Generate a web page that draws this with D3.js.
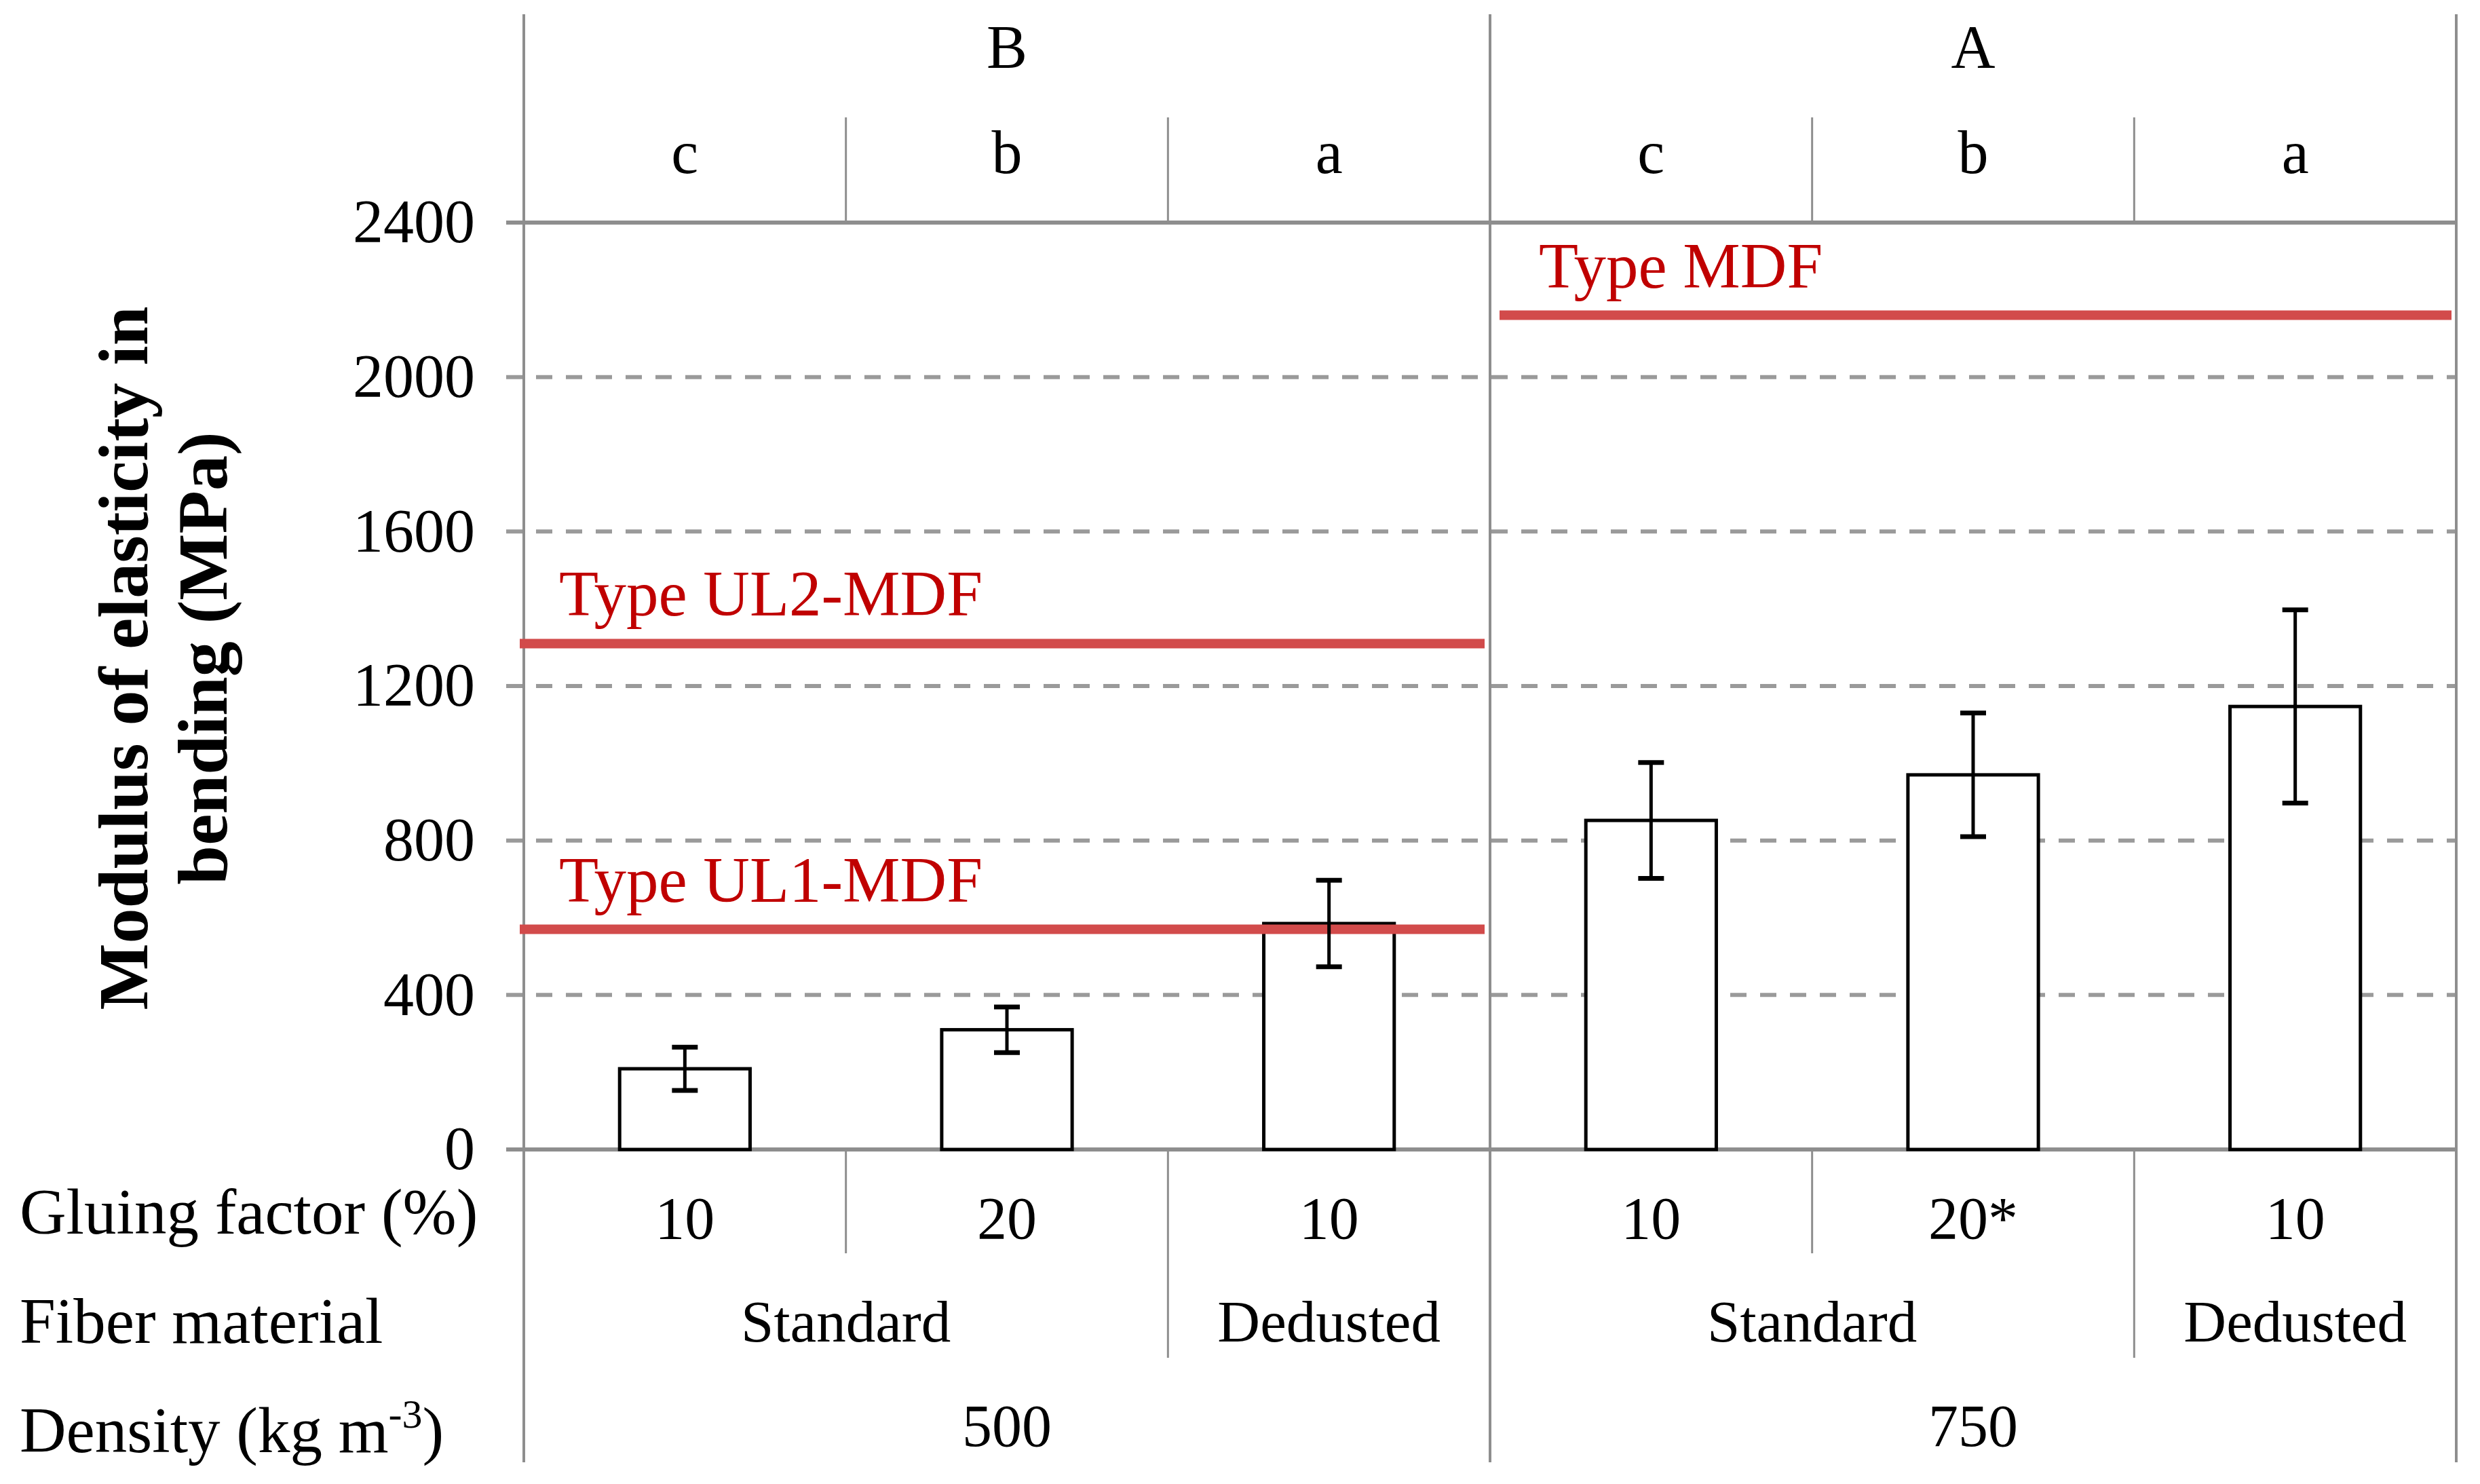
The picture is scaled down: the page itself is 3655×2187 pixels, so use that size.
<!DOCTYPE html>
<html>
<head>
<meta charset="utf-8">
<script src="https://cdn.jsdelivr.net/npm/d3@7"></script>
<style>
  body { margin: 0; background: #fff; }
  text { font-family: "Liberation Serif", "Times New Roman", serif; }
</style>
</head>
<body>
<svg id="chart" width="3655" height="2187"></svg>
<script>
// data
const groups = ["B", "A"];
const letters = ["c", "b", "a", "c", "b", "a"];
const means = [209, 310, 585, 852, 970, 1147];
const sds = [56, 59, 112, 150, 160, 250];
const gluing = ["10", "20", "10", "10", "20*", "10"];
const fiberNames = ["Standard", "Dedusted", "Standard", "Dedusted"];
const fiberFrom = [0, 2, 3, 5];
const fiberTo = [1, 2, 4, 5];
const densities = ["500", "750"];
const refNames = ["Type MDF", "Type UL2-MDF", "Type UL1-MDF"];
const refValues = [2160, 1310, 570];
const refGroup = [1, 0, 0];
const yTicks = [0, 400, 800, 1200, 1600, 2000, 2400];

const svg = d3.select("#chart");
const plotLeft = 772, plotRight = 3620, plotTop = 328, plotBottom = 1694;
const gray = "#8e8e8e";

const x = d3.scaleBand().domain(d3.range(6)).range([plotLeft, plotRight]);
const y = d3.scaleLinear().domain([0, 2400]).range([plotBottom, plotTop]);
const bw = x.bandwidth();
const groupStart = g => x(g * 3);
const groupEnd = g => x(g * 3 + 2) + bw;

// grid lines
svg.append("g").selectAll("line")
  .data(yTicks)
  .join("line")
  .attr("x1", plotLeft - 26).attr("x2", plotRight)
  .attr("y1", d => y(d)).attr("y2", d => y(d))
  .attr("stroke", d => (d === 0 || d === 2400) ? gray : "#9a9a9a")
  .attr("stroke-width", 6)
  .attr("stroke-dasharray", d => (d === 0 || d === 2400) ? null : "24,20");

// y axis labels
const yAxis = d3.axisLeft(y).tickValues(yTicks).tickFormat(d3.format("d"))
  .tickSize(0).tickPadding(72);
const ya = svg.append("g").attr("transform", `translate(${plotLeft},0)`).call(yAxis);
ya.select(".domain").remove();
ya.selectAll("text").attr("font-size", 90).attr("fill", "#000")
  .style("font-family", "'Liberation Serif', serif");

// vertical separators
const vlines = [];
vlines.push([plotLeft, 21, 2155], [plotRight, 21, 2155], [groupStart(1), 21, 2155]);
[1, 2, 4, 5].forEach(i => vlines.push([x(i), 173, plotTop]));
[1, 4].forEach(i => vlines.push([x(i), plotBottom, 1847]));
[2, 5].forEach(i => vlines.push([x(i), plotBottom, 2001]));
svg.append("g").selectAll("line")
  .data(vlines)
  .join("line")
  .attr("x1", d => d[0]).attr("x2", d => d[0])
  .attr("y1", d => d[1]).attr("y2", d => d[2])
  .attr("stroke", gray)
  .attr("stroke-width", d => (d[1] === 21) ? 4 : 3);

// bars
const barW = bw * 0.405;
svg.append("g").selectAll("rect")
  .data(means)
  .join("rect")
  .attr("x", (d, i) => x(i) + (bw - barW) / 2)
  .attr("width", barW)
  .attr("y", d => y(d))
  .attr("height", d => y(0) - y(d))
  .attr("fill", "#fff")
  .attr("stroke", "#000")
  .attr("stroke-width", 5);

// reference lines
const refs = svg.append("g");
refValues.forEach((v, i) => {
  const g = refGroup[i];
  const x0 = groupStart(g) + (g === 0 ? -6 : 14);
  const x1 = groupEnd(g) - (g === 0 ? 8 : 7);
  refs.append("line")
    .attr("x1", x0).attr("x2", x1)
    .attr("y1", y(v)).attr("y2", y(v))
    .attr("stroke", "#d24b4b")
    .attr("stroke-width", 14);
  refs.append("text")
    .attr("x", x0 + 58)
    .attr("y", y(v) - 41)
    .attr("font-size", 95)
    .attr("fill", "#c00000")
    .text(refNames[i]);
});

// error bars
const err = svg.append("g").attr("stroke", "#000").attr("stroke-width", 5);
means.forEach((m, i) => {
  const cx = x(i) + bw / 2;
  err.append("line").attr("x1", cx).attr("x2", cx)
    .attr("y1", y(m + sds[i])).attr("y2", y(m - sds[i]));
  [m + sds[i], m - sds[i]].forEach(v => {
    err.append("line").attr("x1", cx - 19).attr("x2", cx + 19)
      .attr("y1", y(v)).attr("y2", y(v)).attr("stroke-width", 7);
  });
});

// top labels
svg.append("g").selectAll("text")
  .data(groups)
  .join("text")
  .attr("x", (d, g) => (groupStart(g) + groupEnd(g)) / 2)
  .attr("y", 100)
  .attr("text-anchor", "middle")
  .attr("font-size", 90)
  .text(d => d);
svg.append("g").selectAll("text")
  .data(letters)
  .join("text")
  .attr("x", (d, i) => x(i) + bw / 2)
  .attr("y", 255)
  .attr("text-anchor", "middle")
  .attr("font-size", 90)
  .text(d => d);

// bottom rows
svg.append("g").selectAll("text")
  .data(gluing)
  .join("text")
  .attr("x", (d, i) => x(i) + bw / 2)
  .attr("y", 1825)
  .attr("text-anchor", "middle")
  .attr("font-size", 88)
  .text(d => d);
svg.append("g").selectAll("text")
  .data(fiberNames)
  .join("text")
  .attr("x", (d, i) => (x(fiberFrom[i]) + x(fiberTo[i]) + bw) / 2)
  .attr("y", 1977)
  .attr("text-anchor", "middle")
  .attr("font-size", 87)
  .text(d => d);
svg.append("g").selectAll("text")
  .data(densities)
  .join("text")
  .attr("x", (d, g) => (groupStart(g) + groupEnd(g)) / 2)
  .attr("y", 2131)
  .attr("text-anchor", "middle")
  .attr("font-size", 88)
  .text(d => d);

// row titles
svg.append("text").attr("x", 29).attr("y", 1818).attr("font-size", 95).text("Gluing factor (%)");
svg.append("text").attr("x", 29).attr("y", 1979).attr("font-size", 95).text("Fiber material");
const dens = svg.append("text").attr("x", 29).attr("y", 2140).attr("font-size", 95);
dens.append("tspan").text("Density (kg m");
dens.append("tspan").attr("font-size", 60).attr("dy", -36).text("-3");
dens.append("tspan").attr("dy", 36).text(")");

// y title
const yt = svg.append("text")
  .attr("transform", "translate(0,970) rotate(-90)")
  .attr("text-anchor", "middle")
  .attr("font-size", 104)
  .attr("font-weight", "bold");
yt.append("tspan").attr("x", 0).attr("y", 217).text("Modulus of elasticity in");
yt.append("tspan").attr("x", 0).attr("y", 334).text("bending (MPa)");
</script>
</body>
</html>
